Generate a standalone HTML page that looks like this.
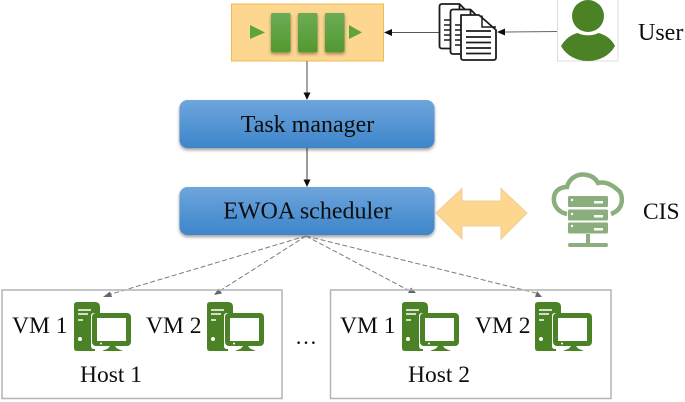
<!DOCTYPE html>
<html><head><meta charset="utf-8">
<style>html,body{margin:0;padding:0;background:#fff}svg{display:block}text{font-family:"Liberation Serif",serif;fill:#111}</style>
</head><body>
<svg width="685" height="402" viewBox="0 0 685 402" xmlns="http://www.w3.org/2000/svg">
<defs>
<linearGradient id="b" x1="0" y1="0" x2="0" y2="1"><stop offset="0" stop-color="#6ea5dc"/><stop offset="1" stop-color="#3d85cb"/></linearGradient>
<linearGradient id="g" x1="0" y1="0" x2="0" y2="1"><stop offset="0" stop-color="#6dab56"/><stop offset="1" stop-color="#52992f"/></linearGradient>
<filter id="s" x="-10%" y="-20%" width="120%" height="150%"><feDropShadow dx="0" dy="2" stdDeviation="1.6" flood-color="#000" flood-opacity=".4"/></filter>
<filter id="bl"><feGaussianBlur stdDeviation="0.35"/></filter>
<filter id="tb" x="-5%" y="-20%" width="110%" height="140%"><feGaussianBlur stdDeviation="0.25"/></filter>
<g id="pc">
<path d="M3 0H21Q26 0 26 5V11H20Q17 11 17 14V44Q17 47 20 47H21V49H3Q0 49 0 46V3Q0 0 3 0Z" fill="#4c8228"/>
<path d="M4 8H17M4 12H14M4 18H9" stroke="#fff" stroke-width="1.4"/>
<circle cx="6" cy="37" r="2" fill="#fff"/>
<rect x="18" y="11" width="39" height="33" rx="4" fill="#4c8228"/>
<rect x="23" y="16" width="29" height="23" fill="#fff"/>
<circle cx="27" cy="41.500" r="1" fill="#fff"/>
<path d="M36 44H41L43 46.500L49 49H28L34 46.500Z" fill="#4c8228"/>
</g>
<g id="doc">
<path d="M2.500 0H20L33 13V42Q33 44.500 30.500 44.500H2.500Q0 44.500 0 42V2.500Q0 0 2.500 0Z" fill="#fff" stroke="#1c1c1c" stroke-width="1.800" stroke-linejoin="round"/>
<path d="M20 0V13H33" fill="none" stroke="#1c1c1c" stroke-width="1.800"/>
</g>
</defs>
<g filter="url(#bl)">
<rect x="231.500" y="4" width="152" height="57" fill="#fdd68f" stroke="#eebc55" stroke-width="1"/>
<g filter="url(#s)">
<rect x="271" y="13" width="19.500" height="39" rx="1.500" fill="url(#g)"/>
<rect x="298" y="13" width="19.500" height="39" rx="1.500" fill="url(#g)"/>
<rect x="325" y="13" width="19.500" height="39" rx="1.500" fill="url(#g)"/>
</g>
<path d="M250 25L265 32.500L250 39Z M349 25L362 32.500L349 39Z" fill="#5fa33b"/>
<path d="M440 32.500H391" stroke="#555" stroke-width="1"/>
<path d="M384 32.500L392 29V36Z" fill="#111"/>
<path d="M558 31.500L505 32" stroke="#666" stroke-width="1"/>
<path d="M497 32L505 28.500V35.500Z" fill="#111"/>
<rect x="557.500" y="-1" width="60.500" height="62" fill="#fff" stroke="#dcdcdc"/>
<circle cx="588" cy="16" r="16" fill="#4c8228"/>
<path d="M561 46C566 38 572 34 578 33C582 36 594 36 598 33C604 34 611 38 615 46C610 55 600 61 588 61C576 61 566 55 561 46Z" fill="#4c8228"/>
<use href="#doc" x="439.500" y="4"/>
<path d="M444 20H450M444 25H450M444 30H450M444 35H450M444 40H450" stroke="#1c1c1c" stroke-width="1.500"/>
<use href="#doc" x="450.500" y="9.500"/>
<path d="M455 25H461M455 30H461M455 35H461M455 40H461M455 45H461" stroke="#1c1c1c" stroke-width="1.500"/>
<path d="M461 15H479L496 30V57.500Q496 60 493.500 60H463.500Q461 60 461 57.500V15Z" fill="#fff" stroke="#1c1c1c" stroke-width="1.800" stroke-linejoin="round"/>
<path d="M482 15.500V27H496" fill="none" stroke="#1c1c1c" stroke-width="1.500"/>
<path d="M466 31H491M466 37H491M466 42.500H491M466 48H491M466 53.500H491" stroke="#1c1c1c" stroke-width="1.700"/>
<path d="M307 61V94" stroke="#777" stroke-width="1.300"/>
<path d="M307 100L303.500 92.500H310.500Z" fill="#111"/>
<path d="M307 148V182" stroke="#666" stroke-width="1.300"/>
<path d="M307 187L303.500 179.500H310.500Z" fill="#111"/>
<rect x="179.500" y="100" width="255" height="48" rx="8" fill="url(#b)" filter="url(#s)"/>
<rect x="179.500" y="187" width="255" height="48" rx="8" fill="url(#b)" filter="url(#s)"/>
<g stroke="#7b7b7b" stroke-width="1" stroke-dasharray="5 2.500" fill="none">
<path d="M306 236L108 295"/><path d="M306 236L218 292"/><path d="M306 236L410 291"/><path d="M306 236L536 293"/>
</g>
<path d="M103 297L110 291.500L112 297Z M214 295L218.500 288.500L222 293.500Z M416 293L408 293L411 287.500Z M542 297L535 297L537 291Z" fill="#666"/>
<rect x="2" y="290" width="280" height="108.500" fill="none" stroke="#b4b4b4" stroke-width="1.500"/>
<rect x="330.500" y="290" width="280.500" height="108.500" fill="none" stroke="#b4b4b4" stroke-width="1.500"/>
<use href="#pc" x="74" y="302"/><use href="#pc" x="207" y="302"/>
<use href="#pc" x="402" y="302"/><use href="#pc" x="535" y="302"/>
<path d="M462 188.500V201H501V188.500L527 213L501 239V226H462V239L436 213Z" fill="#fdd68f" stroke="#eccf95" stroke-width="1"/>
<path d="M567 214C557 212 553 204 554 197C555 190 561 187 567 187C569 178 578 173 587 175C592 176 596 179 598 183C606 181 614 186 620 192C624 200 622 210 611 214" fill="none" stroke="#8aae7b" stroke-width="4.500"/>
<g fill="#8aae7b">
<rect x="568" y="196" width="40" height="11" rx="1.500"/>
<rect x="568" y="209.500" width="40" height="11" rx="1.500"/>
<rect x="568" y="222.500" width="40" height="11" rx="1.500"/>
<rect x="586" y="234" width="4" height="9"/>
<rect x="568" y="243" width="40" height="4" rx="2"/>
</g>
<g fill="#fff">
<circle cx="572" cy="200" r="1.200"/><circle cx="572" cy="214" r="1.200"/><circle cx="572" cy="226" r="1.200"/>
<rect x="594" y="201" width="9" height="2.500"/><rect x="594" y="215" width="9" height="2.500"/><rect x="594" y="228" width="9" height="2.500"/>
</g>
</g>
<g font-size="23.500" filter="url(#tb)">
<text x="307.500" y="132" text-anchor="middle" font-size="24">Task manager</text>
<text x="307.500" y="218.500" text-anchor="middle" font-size="24">EWOA scheduler</text>
<text x="638" y="40" font-size="24">User</text>
<text x="643" y="219">CIS</text>
<text x="12" y="333">VM 1</text>
<text x="146" y="333">VM 2</text>
<text x="340" y="333">VM 1</text>
<text x="475" y="333">VM 2</text>
<text x="80" y="382">Host 1</text>
<text x="408" y="382">Host 2</text>
<text x="295" y="344" font-size="22">…</text>
</g>
</svg>
</body></html>
